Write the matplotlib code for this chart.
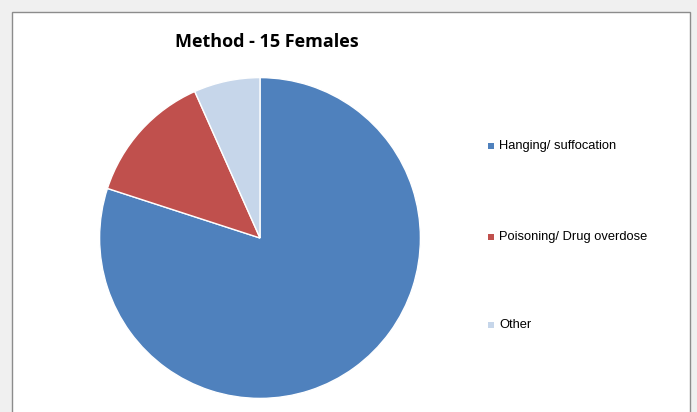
import matplotlib.pyplot as plt
from matplotlib.patches import Rectangle

# data
labels = ["Hanging/ suffocation", "Poisoning/ Drug overdose", "Other"]
counts = [12, 2, 1]
colors = ["#4F81BD", "#C0504D", "#C6D6EA"]

W, H = 697, 412
fig = plt.figure(figsize=(W / 100, H / 100), dpi=100)
fig.patch.set_facecolor("#F0F0F0")

# white chart area with grey frame
fig.patches.append(Rectangle((12 / W, -0.01), (690 - 12) / W, (412 - 12) / H + 0.01,
                             transform=fig.transFigure, facecolor="white",
                             edgecolor="#8C8C8C", linewidth=1.0, zorder=-5))

# pie
cx, cy, r = 260, 238, 162
ax = fig.add_axes([(cx - r) / W, (H - cy - r) / H, 2 * r / W, 2 * r / H])
ax.pie(counts, colors=colors, startangle=90, counterclock=False,
       wedgeprops=dict(edgecolor="white", linewidth=1.0))
ax.set_xlim(-1.01, 1.01)
ax.set_ylim(-1.01, 1.01)
ax.set_aspect("equal")
ax.axis("off")

fig.text(267 / W, 1 - 42 / H, "Method - 15 Females", ha="center", va="center",
         fontsize=13, fontweight="bold", family="Open Sans")

# legend
ys = [146, 237, 325]
for lab, col, y in zip(labels, colors, ys):
    fig.patches.append(Rectangle((488 / W, 1 - (y + 3) / H), 6 / W, 6 / H,
                                 transform=fig.transFigure, facecolor=col,
                                 edgecolor="none"))
    fig.text(499 / W, 1 - y / H, lab, ha="left", va="center",
             fontsize=9.3, family="Liberation Sans")

fig.savefig("out.png", dpi=100, facecolor=fig.get_facecolor())
